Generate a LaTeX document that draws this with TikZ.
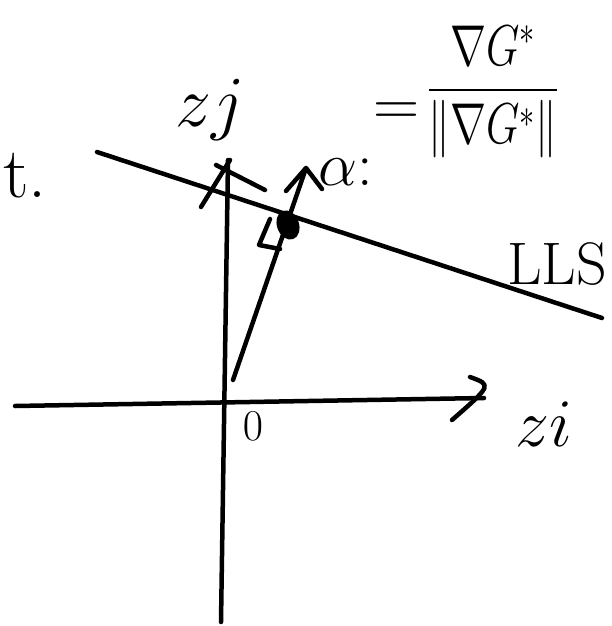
\RequirePackage{fix-cm}
\documentclass[tikz,border=0pt]{standalone}
\usepackage{amsmath}
\usepackage{graphicx}
\tikzset{
    stroke/.style={line width=4.5pt, line cap=round, line join=round},
    hand/.style={inner sep=0pt, font=\fontsize{60}{64}\selectfont},
}
\begin{document}
\begin{tikzpicture}[x=1pt, y=-1pt]
    \useasboundingbox (0,0) rectangle (612,626);

    % axes
    \coordinate (xleft) at (15,406);
    \coordinate (xright) at (484,398);
    \coordinate (ybottom) at (221,622);
    \coordinate (ytop) at (228,160);
    \draw [stroke]
        (xleft) -- (xright)
        (ybottom) -- (ytop)
        ;
    \draw [stroke]
        (470,377) .. controls (492,385) .. (452,420)
        (201,207) -- (230,160)
        (216,165) -- (265,190)
        ;

    % LLS line, point and direction
    \coordinate (llsleft) at (97,152);
    \coordinate (llsright) at (602,318);
    \coordinate (tail) at (233,380);
    \coordinate (head) at (306,168);
    \draw [stroke]
        (llsleft) -- (llsright)
        (tail) -- (head)
        (286,191) -- (head) -- (322,189)
        (270,219) -- (259,245) -- (280,249)
        ;
    \fill [rotate around={20:(288,225)}]
        (288,225) ellipse (11 and 15)
        ;

    % labels
    \node [hand, font=\fontsize{72}{76}\selectfont] (lblzj) at (210,110) {$zj$};
    \node [hand, font=\fontsize{68}{72}\selectfont] (lblzi) at (544,424) {$zi$};
    \node [hand, font=\fontsize{44}{48}\selectfont] (lblzero) at (253,426) {$0$};
    \node [hand] (lbllls) at (557,264) {LLS};
    \node [hand, font=\fontsize{72}{76}\selectfont] (lblt) at (25,176) {t.};
    \node [hand, font=\fontsize{62}{66}\selectfont] (lblalpha) at (346,172) {$\alpha{:}$};
    \node [hand, font=\fontsize{64}{68}\selectfont] (lbleq) at (397,114) {$=$};
    \node [hand, font=\fontsize{48}{52}\selectfont] (lblfrac) at (493,92)
        {\scalebox{0.9}[1.2]{$\dfrac{\nabla G^{*}}{\|\nabla G^{*}\|}$}};
\end{tikzpicture}
\end{document}
